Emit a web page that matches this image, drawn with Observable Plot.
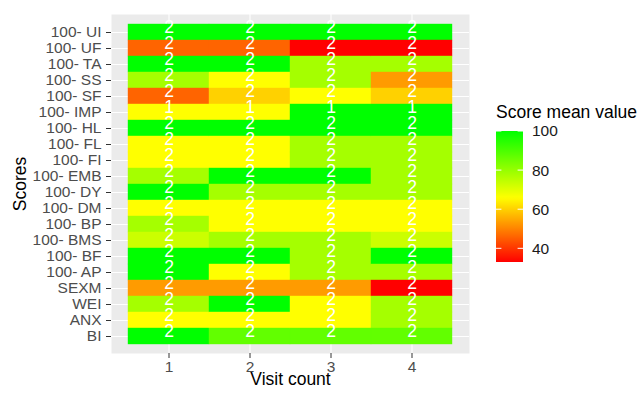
<!DOCTYPE html>
<html><head><meta charset="utf-8">
<script src="https://cdn.jsdelivr.net/npm/d3@7"></script>
<script src="https://cdn.jsdelivr.net/npm/@observablehq/plot@0.6"></script>
<style>
body{margin:0;background:#fff;}
#chart{position:relative;width:643px;height:394px;}
</style></head><body><div id="chart"></div>
<script>
// ---- data ----
const scores = ["100- UI","100- UF","100- TA","100- SS","100- SF","100- IMP","100- HL","100- FL","100- FI","100- EMB","100- DY","100- DM","100- BP","100- BMS","100- BF","100- AP","SEXM","WEI","ANX","BI"];
const visits = [1, 2, 3, 4];
const visit1 = [100,46,100,78,46,66,100,66,66,78,100,66,78,73,100,100,53,78,66,100];
const visit2 = [100,46,100,66,60,66,100,66,66,100,78,66,66,78,100,66,53,100,66,87];
const visit3 = [100,33,78,78,66,100,100,78,78,100,78,66,66,78,78,78,53,66,66,87];
const visit4 = [100,33,78,53,60,100,100,78,78,78,78,66,66,73,100,78,33,78,78,87];
const counts = [2,2,2,2,2,1,2,2,2,2,2,2,2,2,2,2,2,2,2,2];
const legendTicks = [40, 60, 80, 100];
const colorDomain = [33, 66, 100];
const colorRange = ["#ff0000", "#ffff00", "#00ff00"];
const xTitle = "Visit count";
const yTitle = "Scores";
const legendTitle = "Score mean value";

const visitMeans = [visit1, visit2, visit3, visit4];
const data = [];
visits.forEach((v, j) => scores.forEach((s, i) => data.push({visit: v, score: s, mean: visitMeans[j][i], n: counts[i]})));

const FONT = "'Liberation Sans', Arial, sans-serif";
const chart = Plot.plot({
  width: 643, height: 394,
  marginLeft: 111, marginRight: 174, marginTop: 14, marginBottom: 41,
  style: {fontFamily: FONT, background: "#fff", overflow: "visible"},
  x: {type: "band", domain: visits, paddingInner: 0, paddingOuter: 0.2},
  y: {type: "band", domain: scores, paddingInner: 0, paddingOuter: 0.1},
  color: {type: "linear", domain: colorDomain, range: colorRange, interpolate: "rgb"},
  marks: [
    Plot.frame({fill: "#EBEBEB"}),
    Plot.gridY({stroke: "white", strokeOpacity: 1, strokeWidth: 1.1}),
    Plot.gridX({stroke: "white", strokeOpacity: 1, strokeWidth: 1.1}),
    Plot.cell(data, {x: "visit", y: "score", fill: "mean", inset: 0, stroke: "mean", strokeWidth: 0.4}),
    Plot.text(data, {x: "visit", y: "score", text: d => String(d.n), fill: "white", fontSize: 17.5, lineAnchor: "bottom", dy: 0.5, clip: true}),
    Plot.axisX({label: null, tickSize: 5, tickPadding: 2, fontSize: 15.5, stroke: "#333", fill: "#4D4D4D"}),
    Plot.axisY({label: null, tickSize: 5, tickPadding: 5, fontSize: 15.5, stroke: "#333", fill: "#4D4D4D"}),
    Plot.text([xTitle], {frameAnchor: "bottom", text: d => d, lineAnchor: "bottom", dy: 31, fontSize: 17.5, fill: "#000"}),
    Plot.text([yTitle], {frameAnchor: "left", text: d => d, textAnchor: "middle", lineAnchor: "bottom", rotate: -90, dx: -86, fontSize: 17.5, fill: "#000"})
  ]
});
document.getElementById("chart").appendChild(chart);

// ---- vertical colorbar legend built from the chart's color scale ----
const color = chart.scale("color");
const svg = d3.select(chart);
const barX = 496, barW = 27, barTop = 131, barBot = 262;
const ly = d3.scaleLinear().domain([colorDomain[0], colorDomain[colorDomain.length - 1]]).range([barBot, barTop]);
const grad = svg.append("defs").append("linearGradient")
  .attr("id", "cbar").attr("x1", 0).attr("y1", 1).attr("x2", 0).attr("y2", 0);
d3.range(0, 1.0001, 0.02).forEach(t => {
  const v = ly.domain()[0] + t * (ly.domain()[1] - ly.domain()[0]);
  grad.append("stop").attr("offset", t).attr("stop-color", color.apply(v));
});
const lg = svg.append("g").attr("font-family", FONT).attr("text-anchor", "start");
lg.append("text").attr("x", barX).attr("y", 118).attr("font-size", 17.5).attr("fill", "#000").text(legendTitle);
lg.append("rect").attr("x", barX).attr("y", barTop).attr("width", barW).attr("height", barBot - barTop).attr("fill", "url(#cbar)");
legendTicks.forEach(t => {
  const y = ly(t);
  lg.append("line").attr("x1", barX).attr("x2", barX + 5.4).attr("y1", y).attr("y2", y).attr("stroke", "white").attr("stroke-width", 1);
  lg.append("line").attr("x1", barX + barW - 5.4).attr("x2", barX + barW).attr("y1", y).attr("y2", y).attr("stroke", "white").attr("stroke-width", 1);
  lg.append("text").attr("x", 532).attr("y", y).attr("dy", "0.35em").attr("font-size", 15.5).attr("fill", "#1A1A1A").text(t);
});
</script>
</body></html>
